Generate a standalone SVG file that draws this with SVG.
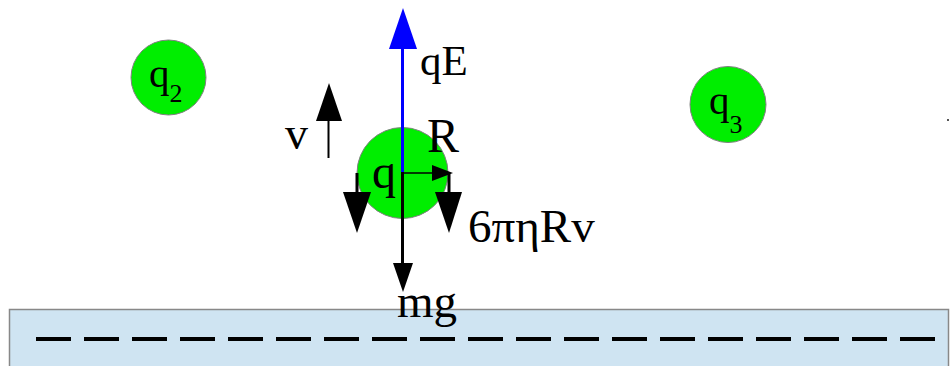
<svg xmlns="http://www.w3.org/2000/svg" width="951" height="366" viewBox="0 0 951 366">
<style>
.t{font-family:"Liberation Serif","Times New Roman",serif;fill:#000}
.ball{fill:#00ee00;stroke:#808080;stroke-width:1}
</style>
<rect width="951" height="366" fill="#ffffff"/>
<g id="ground">
<rect x="9.5" y="309.5" width="939" height="60" fill="#cfe4f2" stroke="#888888" stroke-width="1.5"/>
<line x1="36" y1="339" x2="936" y2="339" stroke="#000" stroke-width="4" stroke-dasharray="35 13"/>
</g>
<g id="q2">
<circle class="ball" cx="168.5" cy="77.5" r="37.5"/>
<text class="t" x="149" y="87" font-size="41">q<tspan font-size="26" dy="15">2</tspan></text>
</g>
<g id="q3">
<circle class="ball" cx="728" cy="104.5" r="38"/>
<text class="t" x="709" y="114" font-size="41">q<tspan font-size="26" dy="19">3</tspan></text>
</g>
<g id="q">
<circle class="ball" cx="402.5" cy="173" r="45.5"/>
<text class="t" x="372" y="188" font-size="48">q</text>
</g>
<g id="connectors">
<line x1="402.5" y1="45" x2="402.5" y2="173" stroke="#0000ff" stroke-width="3"/>
<polygon points="389,49 417,49 403,8" fill="#0000ff"/>
<line x1="402.5" y1="172" x2="402.5" y2="265" stroke="#000" stroke-width="3"/>
<polygon points="393,263 413,263 403,292" fill="#000"/>
<line x1="328.5" y1="118" x2="328.5" y2="158" stroke="#000" stroke-width="2"/>
<polygon points="316,121 342,121 329,83" fill="#000"/>
<line x1="357" y1="173" x2="357" y2="195" stroke="#000" stroke-width="3"/>
<polygon points="343,192 371,192 357,233" fill="#000"/>
<line x1="449" y1="173" x2="449" y2="195" stroke="#000" stroke-width="3"/>
<polygon points="435,192 462,192 449,233" fill="#000"/>
<line x1="404" y1="173" x2="434" y2="173" stroke="#000" stroke-width="1.5"/>
<polygon points="432,165 432,181 453,173" fill="#000"/>
</g>
<g id="labels">
<text class="t" x="420" y="75" font-size="43">qE</text>
<text class="t" x="427" y="152" font-size="48">R</text>
<text class="t" x="285" y="149" font-size="46">v</text>
<text class="t" x="468" y="242" font-size="47">6πηRv</text>
<text class="t" x="397" y="317" font-size="47">mg</text>
</g>
<rect x="947" y="119" width="2" height="2" fill="#555555"/>
</svg>
